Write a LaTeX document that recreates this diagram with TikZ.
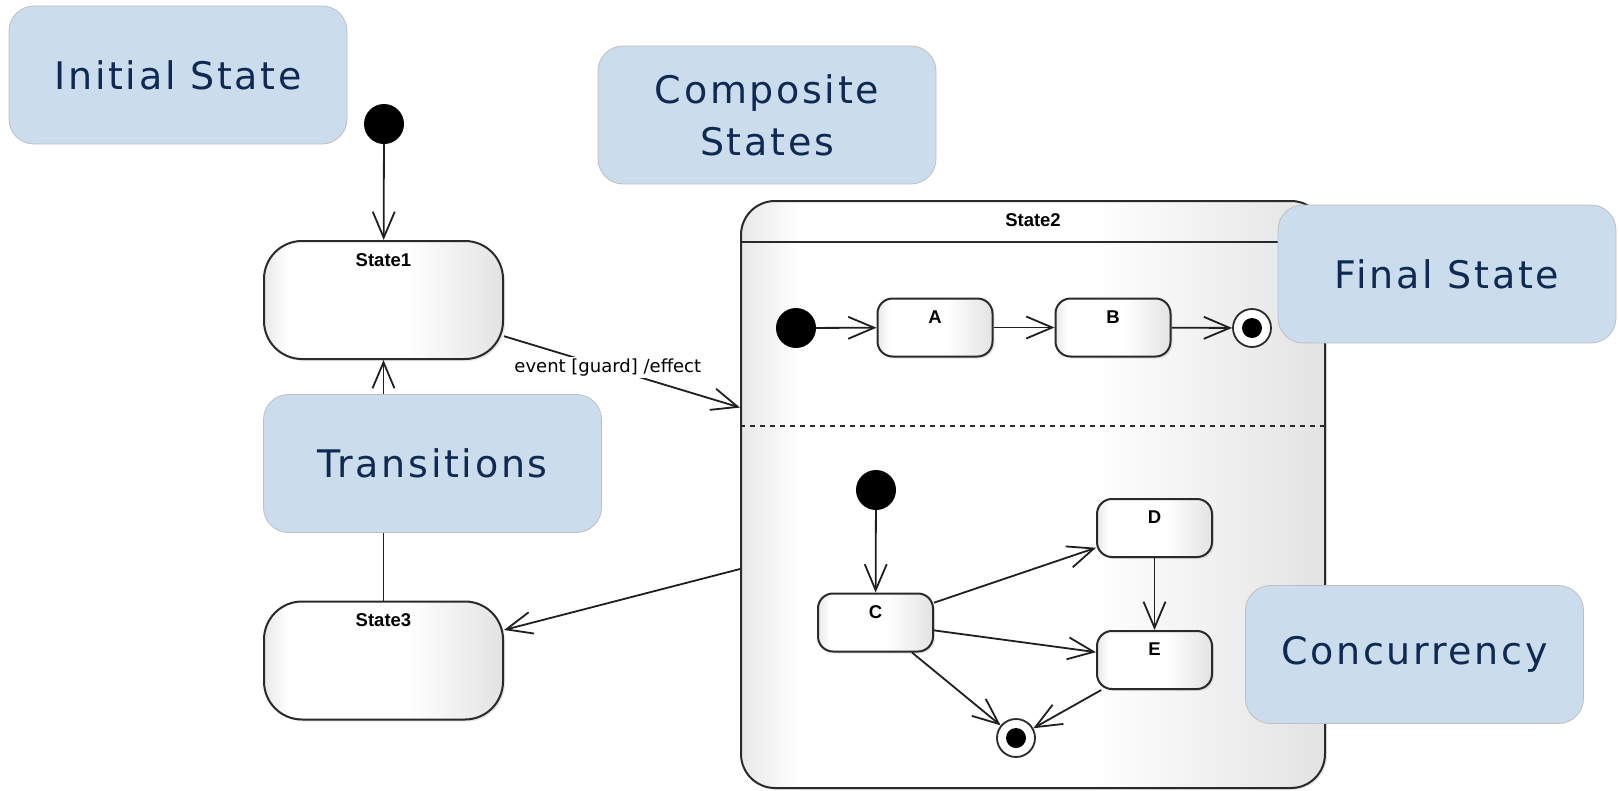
\documentclass[tikz,border=0pt]{standalone}
\usepackage{fontspec}
\setmainfont{DejaVu Sans}
\newfontfamily\notefont[LetterSpace=7]{DejaVu Sans}
\newfontfamily\namefont{Liberation Sans}
\usetikzlibrary{arrows.meta,shadows}
\definecolor{noteblue}{HTML}{CBDCEC}
\definecolor{notetext}{HTML}{0F2A52}
\definecolor{umlline}{HTML}{2A2A2A}
\pgfdeclarehorizontalshading{umlgrad}{100bp}{color(0bp)=(black!9); color(25bp)=(black!9); color(30bp)=(white); color(55bp)=(white); color(75bp)=(black!11); color(100bp)=(black!11)}

\begin{document}
\begin{tikzpicture}[x=1pt, y=-1pt,
    every node/.style={align=center},
    stbox/.style={rectangle, draw=umlline, line width=2pt, rounded corners=38pt, shading=umlgrad, minimum width=239pt, minimum height=118pt, drop shadow={shadow xshift=2pt, shadow yshift=-2pt, opacity=.2}},
    sub/.style={stbox, rounded corners=15pt, minimum width=115pt, minimum height=58pt},
    nm/.style={font=\namefont\bfseries\fontsize{18.5}{20}\selectfont, inner sep=0pt, anchor=north, yshift=-13pt},
    note/.style={rectangle, draw=black!25, line width=.8pt, fill=noteblue, rounded corners=25pt, minimum width=338pt, minimum height=138pt, text=notetext, font=\notefont\fontsize{38}{52}\selectfont},
    startdot/.style={circle, fill=black, minimum size=40pt, inner sep=0pt},
    enddot/.style={circle, draw=umlline, line width=1.8pt, fill=white, minimum size=38pt, inner sep=0pt, path picture={\fill[black] (path picture bounding box.center) circle (10pt);}},
    arr/.style={-{Straight Barb[length=26pt, width=22pt]}, line width=1.8pt, black!88},
    lbl/.style={fill=white, inner sep=2pt, text=black, font=\fontsize{18}{20}\selectfont}
]
\useasboundingbox (0,0) rectangle (1619,790);

\node[stbox, label={[nm]north:State2}, minimum width=584pt, minimum height=587pt, rounded corners=34pt] (s2) at (1033,494.5) {};
\draw[umlline, line width=1.8pt] ([yshift=-42pt]s2.north west) -- ([yshift=-42pt]s2.north east);
\draw[umlline, line width=1.6pt, dash pattern=on 5pt off 5pt] ([yshift=-226pt]s2.north west) -- ([yshift=-226pt]s2.north east);

\node[startdot] (i2) at (796,328) {};
\node[sub, label={[nm]north:A}] (a) at (935,327.5) {};
\node[sub, label={[nm]north:B}] (b) at (1113,327.5) {};
\node[enddot] (f1) at (1252,328) {};
\node[startdot] (i3) at (876,490) {};
\node[sub, label={[nm]north:C}] (c) at (875.5,622.5) {};
\node[sub, label={[nm]north:D}] (d) at (1154.5,528) {};
\node[sub, label={[nm]north:E}] (e) at (1154.5,660) {};
\node[enddot] (f2) at (1016,738) {};

\node[startdot] (i1) at (384,124) {};
\node[stbox, label={[nm]north:State1}] (s1) at (383.5,300) {};
\node[stbox, label={[nm]north:State3}] (s3) at (383.5,660.5) {};

\draw[arr] (i1) -- (s1);
\draw[arr] (s3) -- (s1);
\draw[arr] (s1) -- node[lbl, pos=.44]{event [guard] /effect} (s2);
\draw[arr] (s2) -- (s3);
\draw[arr] (i2) -- (a);
\draw[arr] (a) -- (b);
\draw[arr] (b) -- (f1);
\draw[arr] (i3) -- (c);
\draw[arr] (c) -- (d);
\draw[arr] (c) -- (e);
\draw[arr] (c) -- (f2);
\draw[arr] (d) -- (e);
\draw[arr] (e) -- (f2);

\node[note] (n1) at (178,75) {Initial State};
\node[note] (n2) at (767,115) {Composite\\States};
\node[note] (n3) at (1447,274) {Final State};
\node[note] (n4) at (432.5,463.5) {Transitions};
\node[note] (n5) at (1414.5,654.5) {Concurrency};
\end{tikzpicture}
\end{document}
